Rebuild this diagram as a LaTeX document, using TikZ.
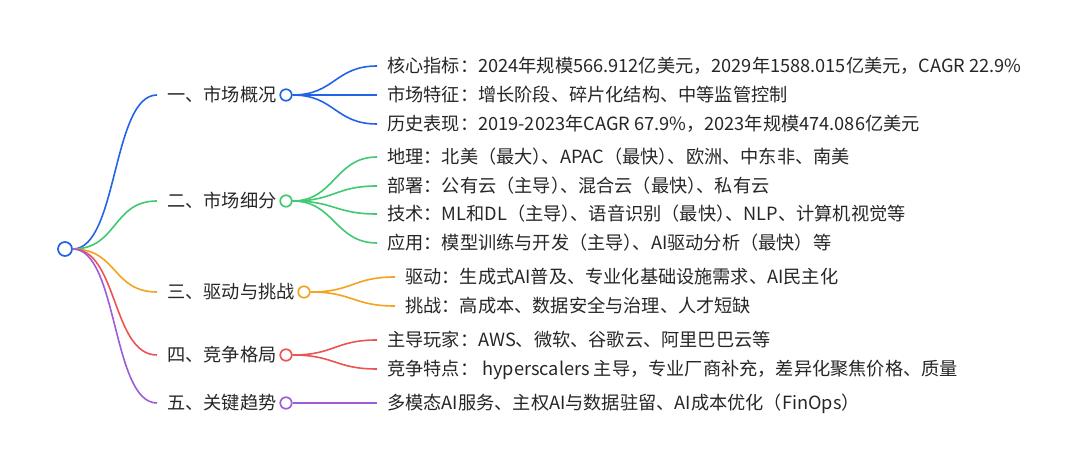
\documentclass[tikz,border=0pt]{standalone}
\usepackage{fontspec}
\setmainfont{Noto Sans CJK SC}
\newcommand\pjk{\kern-0.5em}
\definecolor{cblue}{RGB}{34,100,230}
\definecolor{cgreen}{RGB}{64,200,115}
\definecolor{corange}{RGB}{245,162,30}
\definecolor{cred}{RGB}{236,84,84}
\definecolor{cpurple}{RGB}{158,92,218}
\begin{document}
\begin{tikzpicture}[x=1pt,y=-1pt,
  txt/.style={anchor=west,inner sep=0pt,font=\fontsize{18.2}{21}\selectfont,text height=15.5pt,text depth=2.5pt,text=black!85},
  dot/.style={circle,draw=#1,fill=white,line width=1.7pt,minimum size=11.5pt,inner sep=0pt},
  link/.style={draw=#1,line width=1.6pt},
]
\useasboundingbox (0,0) rectangle (1080,470);
% root
\node[dot=cblue,minimum size=14pt] (root) at (65,249) {};
% level 1
\node[txt] (a) at (167,95) {一、市场概况};
\node[txt] (b) at (167,201) {二、市场细分};
\node[txt] (c) at (167,292) {三、驱动与挑战};
\node[txt] (d) at (167,355) {四、竞争格局};
\node[txt] (e) at (167,403) {五、关键趋势};
\node[dot=cblue] (ca) at (286,95) {};
\node[dot=cgreen] (cb) at (286,201) {};
\node[dot=corange] (cc) at (304,292) {};
\node[dot=cred] (cd) at (286,355) {};
\node[dot=cpurple] (ce) at (286,403) {};
% level 2
\node[txt] (a1) at (387,66) {核心指标：2024年规模566.912亿美元，2029年1588.015亿美元，CAGR 22.9\%};
\node[txt] (a2) at (387,95) {市场特征：增长阶段、碎片化结构、中等监管控制};
\node[txt] (a3) at (387,124) {历史表现：2019-2023年CAGR 67.9\%，2023年规模474.086亿美元};
\node[txt] (b1) at (387,157) {地理：北美（最大）\pjk、APAC（最快）\pjk、欧洲、中东非、南美};
\node[txt] (b2) at (387,186) {部署：公有云（主导）\pjk、混合云（最快）\pjk、私有云};
\node[txt] (b3) at (387,214) {技术：ML和DL（主导）\pjk、语音识别（最快）\pjk、NLP、计算机视觉等};
\node[txt] (b4) at (387,243) {应用：模型训练与开发（主导）\pjk、AI驱动分析（最快）等};
\node[txt] (c1) at (405,277) {驱动：生成式AI普及、专业化基础设施需求、AI民主化};
\node[txt] (c2) at (405,306) {挑战：高成本、数据安全与治理、人才短缺};
\node[txt] (d1) at (387,340) {主导玩家：AWS、微软、谷歌云、阿里巴巴云等};
\node[txt] (d2) at (387,369) {竞争特点： hyperscalers 主导，专业厂商补充，差异化聚焦价格、质量};
\node[txt] (e1) at (387,403) {多模态AI服务、主权AI与数据驻留、AI成本优化（FinOps）};
% root links
\foreach \n/\col in {a/cblue,b/cgreen,c/corange,d/cred,e/cpurple}{
  \draw[link=\col] (root.east) .. controls +(45,0) and +(-45,0) .. ([xshift=-10pt]\n.west);
}
% level 2 links
\foreach \p/\n/\col in {ca/a1/cblue,ca/a2/cblue,ca/a3/cblue,
  cb/b1/cgreen,cb/b2/cgreen,cb/b3/cgreen,cb/b4/cgreen,
  cc/c1/corange,cc/c2/corange,cd/d1/cred,cd/d2/cred,ce/e1/cpurple}{
  \draw[link=\col] (\p.east) .. controls +(42,0) and +(-42,0) .. ([xshift=-10pt]\n.west);
}
\end{tikzpicture}
\end{document}
